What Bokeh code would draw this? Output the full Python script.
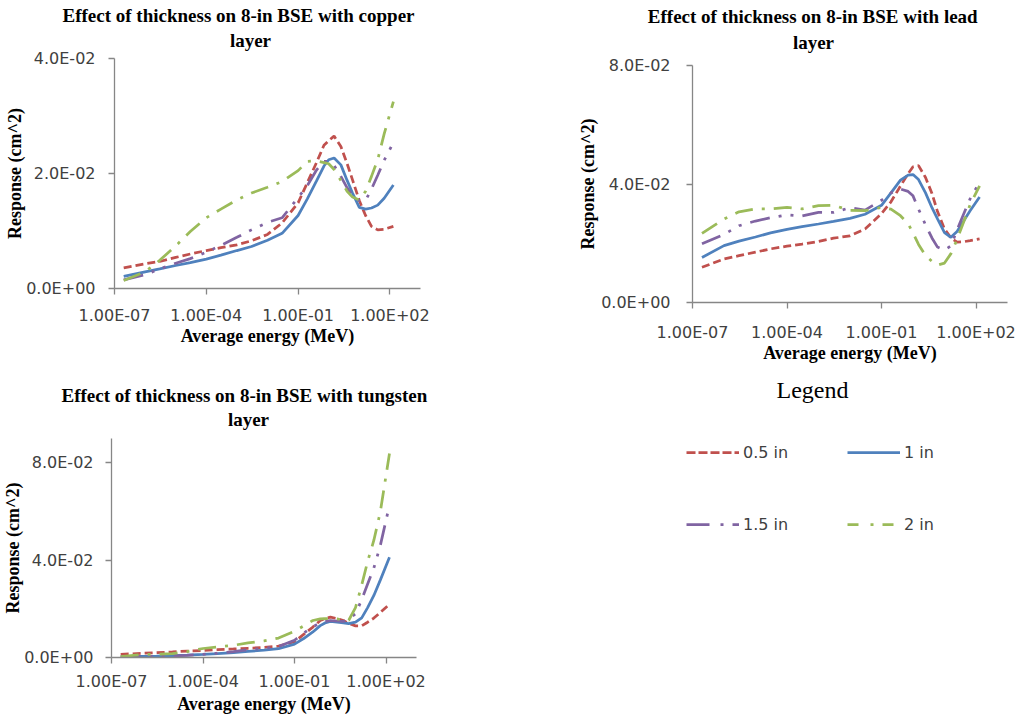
from bokeh.plotting import figure
from bokeh.models import FixedTicker, Title, Legend, LegendItem, Range1d, CustomJSTickFormatter
from bokeh.layouts import column, row
from bokeh.embed import file_html
from bokeh.resources import INLINE

# ---------------- data ----------------
energy = [2e-7, 1e-6, 3e-6, 1e-5, 3e-5, 1e-4, 3e-4, 1e-3, 3e-3, 1e-2, 3e-2, 0.1, 0.2, 0.4, 0.7,
          1, 1.5, 2.5, 4, 6, 10, 16, 25, 40, 65, 130]

cu_05 = [0.0036, 0.0043, 0.0047, 0.0054, 0.0060, 0.0066, 0.0071, 0.0076, 0.0083, 0.0094, 0.0114, 0.0149, 0.0184,
         0.0219, 0.0249, 0.0257, 0.0265, 0.0247, 0.0217, 0.0189, 0.0153, 0.0127, 0.0108, 0.0102, 0.0103, 0.0108]
cu_1 = [0.0021, 0.0029, 0.0034, 0.0040, 0.0045, 0.0051, 0.0058, 0.0066, 0.0073, 0.0084, 0.0096, 0.0127, 0.0156,
        0.0187, 0.0213, 0.0224, 0.0227, 0.0215, 0.0188, 0.0166, 0.0141, 0.0138, 0.0140, 0.0145, 0.0157, 0.0180]
cu_15 = [0.0015, 0.0024, 0.0034, 0.0044, 0.0052, 0.0063, 0.0075, 0.0089, 0.0102, 0.0115, 0.0123, 0.0158, 0.0179,
         0.0206, 0.0221, 0.0221, 0.0214, 0.0195, 0.0175, 0.0161, 0.0153, 0.0153, 0.0173, 0.0197, 0.0223, 0.0254]
cu_2 = [0.0014, 0.0029, 0.0049, 0.0074, 0.0099, 0.0123, 0.0138, 0.0154, 0.0166, 0.0176, 0.0186, 0.0205, 0.0221,
        0.0222, 0.0219, 0.0217, 0.0207, 0.0188, 0.0169, 0.0159, 0.0154, 0.0169, 0.0195, 0.0224, 0.0269, 0.0325]

pb_05 = [0.0119, 0.0147, 0.0158, 0.0170, 0.0181, 0.0190, 0.0197, 0.0206, 0.0217, 0.0225, 0.0248, 0.0300, 0.0340,
         0.0393, 0.0435, 0.0458, 0.0462, 0.0422, 0.0368, 0.0307, 0.0248, 0.0218, 0.0204, 0.0205, 0.0209, 0.0215]
pb_1 = [0.0152, 0.0192, 0.0207, 0.0221, 0.0235, 0.0247, 0.0256, 0.0265, 0.0274, 0.0284, 0.0298, 0.0328, 0.0370,
        0.0413, 0.0430, 0.0432, 0.0415, 0.0370, 0.0320, 0.0282, 0.0236, 0.0220, 0.0240, 0.0274, 0.0310, 0.0356]
pb_15 = [0.0198, 0.0230, 0.0259, 0.0275, 0.0286, 0.0296, 0.0292, 0.0304, 0.0304, 0.0320, 0.0312, 0.0345, 0.0370,
         0.0383, 0.0375, 0.0360, 0.0315, 0.0262, 0.0218, 0.0187, 0.0177, 0.0191, 0.0245, 0.0297, 0.0350, 0.0406]
pb_2 = [0.0233, 0.0282, 0.0306, 0.0316, 0.0316, 0.0321, 0.0316, 0.0327, 0.0328, 0.0311, 0.0310, 0.0321, 0.0315,
        0.0293, 0.0266, 0.0235, 0.0196, 0.0158, 0.0139, 0.0126, 0.0133, 0.0165, 0.0213, 0.0270, 0.0330, 0.0394]

w_05 = [0.0013, 0.0017, 0.0020, 0.0023, 0.0026, 0.0029, 0.0032, 0.0035, 0.0038, 0.0041, 0.0047, 0.0065, 0.0095,
        0.0125, 0.0152, 0.0160, 0.0166, 0.0160, 0.0152, 0.0140, 0.0130, 0.0130, 0.0145, 0.0162, 0.0185, 0.0219]
w_1 = [0.0003, 0.0005, 0.0006, 0.0008, 0.0010, 0.0013, 0.0016, 0.0020, 0.0025, 0.0030, 0.0036, 0.0055, 0.0078,
       0.0105, 0.0131, 0.0142, 0.0148, 0.0145, 0.0142, 0.0139, 0.0145, 0.0163, 0.0205, 0.0255, 0.0318, 0.0412]
w_15 = [0.0002, 0.0004, 0.0005, 0.0007, 0.0009, 0.0013, 0.0018, 0.0024, 0.0032, 0.0038, 0.0045, 0.0071, 0.0100,
        0.0126, 0.0143, 0.0148, 0.0152, 0.0150, 0.0148, 0.0158, 0.0179, 0.0238, 0.0302, 0.0368, 0.0460, 0.0626]
w_2 = [0.0004, 0.0012, 0.0014, 0.0016, 0.0024, 0.0037, 0.0043, 0.0050, 0.0060, 0.0068, 0.0080, 0.0108, 0.0130,
       0.0152, 0.0159, 0.0160, 0.0160, 0.0159, 0.0152, 0.0153, 0.0205, 0.0298, 0.0395, 0.0482, 0.0598, 0.0838]

series_labels = ["0.5 in", "1 in", "1.5 in", "2 in"]
x_ticks = [1e-7, 1e-4, 1e-1, 1e2]
cu_yticks = [0, 0.02, 0.04]
pbw_yticks = [0, 0.04, 0.08]

# ---------------- styles ----------------
COLORS = ["#C0504D", "#4F81BD", "#8064A2", "#9BBB59"]
DASHES = ["8 4", "solid", "20 9 3 9 3 9", "18 9 3 9"]
TICK_FONT = "DejaVu Sans"
SERIF = "Liberation Serif"
AXIS_GRAY = "#868686"
TEXT_GRAY = "#404040"

XCODE = """
const s = tick.toExponential(2).split('e');
const n = parseInt(s[1]);
return s[0] + 'E' + (n < 0 ? '-' : '+') + String(Math.abs(n)).padStart(2, '0');
"""
YCODE = """
const s = tick.toExponential(1).split('e');
const n = parseInt(s[1]);
return s[0] + 'E' + (n < 0 ? '-' : '+') + String(Math.abs(n)).padStart(2, '0');
"""


def panel(w, h, borders, ymax, yticks, ys, line1, off1, off2, st1, st2,
          y_std, y_lab_std, x_std, x_lab_std):
    left, right, top, bottom = borders
    p = figure(width=w, height=h, x_axis_type="log",
               x_range=Range1d(1e-7, 1e3), y_range=Range1d(0, ymax),
               output_backend="svg", toolbar_location=None, title=None,
               min_border_left=left, min_border_right=right,
               min_border_top=top, min_border_bottom=bottom)
    p.frame_align = False
    for y, c, d in zip(ys, COLORS, DASHES):
        p.line(energy, y, line_color=c, line_width=2.75, line_dash=d)
    p.add_layout(Title(text="layer", align="left", offset=off2, standoff=st2,
                       text_font=SERIF, text_font_size="19px", text_font_style="bold",
                       text_color="black"), "above")
    p.add_layout(Title(text=line1, align="left", offset=off1, standoff=st1,
                       text_font=SERIF, text_font_size="19px", text_font_style="bold",
                       text_color="black"), "above")
    p.xaxis.ticker = FixedTicker(ticks=x_ticks, minor_ticks=[])
    p.yaxis.ticker = FixedTicker(ticks=yticks, minor_ticks=[])
    p.xaxis.formatter = CustomJSTickFormatter(code=XCODE)
    p.yaxis.formatter = CustomJSTickFormatter(code=YCODE)
    p.xaxis.axis_label = "Average energy (MeV)"
    p.yaxis.axis_label = "Response (cm^2)"
    for ax in (p.xaxis[0], p.yaxis[0]):
        ax.axis_line_color = AXIS_GRAY
        ax.axis_line_width = 1.3
        ax.major_tick_line_color = AXIS_GRAY
        ax.major_tick_line_width = 1.3
        ax.major_tick_out = 6
        ax.major_tick_in = 0
        ax.minor_tick_out = 0
        ax.minor_tick_in = 0
        ax.major_label_text_font = TICK_FONT
        ax.major_label_text_font_size = "16px"
        ax.major_label_text_color = TEXT_GRAY
        ax.major_label_text_line_height = 1.0
        ax.axis_label_text_font = SERIF
        ax.axis_label_text_font_size = "18px"
        ax.axis_label_text_font_style = "bold"
        ax.axis_label_text_color = "black"
        ax.axis_label_text_line_height = 1.0
    p.yaxis.major_label_standoff = y_std
    p.yaxis.axis_label_standoff = y_lab_std
    p.xaxis.major_label_standoff = x_std
    p.xaxis.axis_label_standoff = x_lab_std
    p.grid.visible = False
    p.outline_line_color = None
    p.background_fill_color = "white"
    p.border_fill_color = "white"
    return p


# left column: copper (top), tungsten (bottom); right column: lead (top), legend (bottom)
p_cu = panel(560, 354, (114, 140, 58, 66), 0.04, cu_yticks, [cu_05, cu_1, cu_15, cu_2],
             "Effect of thickness on 8-in BSE with copper", -52, 115.4, -11.2, 15.2,
             13, -2, 11, -2)
p_w = panel(560, 363, (110, 144, 84, 60), 0.09, pbw_yticks, [w_05, w_1, w_15, w_2],
            "Effect of thickness on 8-in BSE with tungsten", -50, 116.4, -15.2, 17.2,
            12, -2, 8, 0)
p_pb = panel(459, 366, (132, 12, 65, 64), 0.08, pbw_yticks, [pb_05, pb_1, pb_15, pb_2],
             "Effect of thickness on 8-in BSE with lead", -44.7, 100.4, -19.2, 25.2,
             16, 0, 14, -2)

# ---------------- legend panel ----------------
# the sample renderers hold real data but sit outside this panel's visible range
p_leg = figure(width=459, height=351, x_range=Range1d(0, 1), y_range=Range1d(10, 11),
               output_backend="svg", toolbar_location=None, title=None,
               x_axis_location=None, y_axis_location=None,
               min_border_left=0, min_border_right=0, min_border_top=0, min_border_bottom=0)
p_leg.frame_align = False
p_leg.grid.visible = False
p_leg.outline_line_color = None
p_leg.add_layout(Title(text="Legend", align="left", offset=216, standoff=17,
                       text_font=SERIF, text_font_size="24px", text_font_style="normal",
                       text_color="black"), "above")
LEG_DASHES = ["9 3", "solid", "23 11 3 9", "11 12 3 9"]
leg_rends = []
for y, c, d in zip([cu_05, cu_1, cu_15, cu_2], COLORS, LEG_DASHES):
    leg_rends.append(p_leg.line(energy, y, line_color=c, line_width=2.75, line_dash=d))

for idx, vy in ((0, 255), (2, 183)):
    items = [LegendItem(label=series_labels[idx], renderers=[leg_rends[idx]]),
             LegendItem(label=series_labels[idx + 1], renderers=[leg_rends[idx + 1]])]
    lg = Legend(items=items, location=(126, vy), orientation="horizontal",
                glyph_width=53, glyph_height=20, label_width=100, label_height=20,
                label_standoff=4, spacing=4, padding=0, margin=0,
                border_line_color=None, background_fill_alpha=0,
                label_text_font=TICK_FONT, label_text_font_size="16px",
                label_text_color=TEXT_GRAY)
    p_leg.add_layout(lg, "center")

layout = row(column(p_cu, p_w), column(p_pb, p_leg))
open("out.html", "w").write(file_html(layout, INLINE))
